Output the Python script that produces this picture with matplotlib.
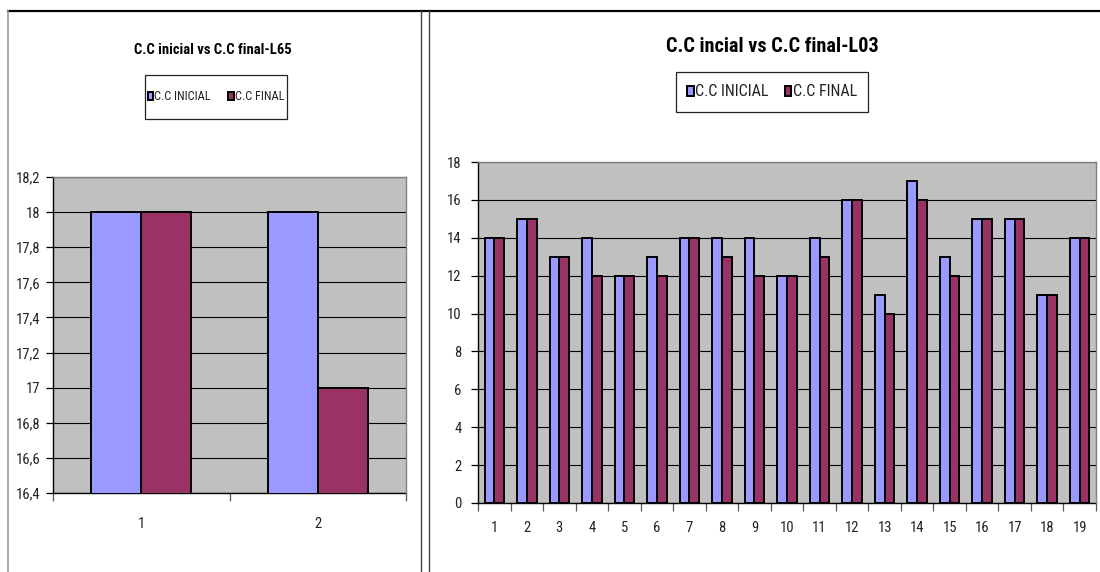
import matplotlib
matplotlib.use("Agg")
import matplotlib.pyplot as plt
from matplotlib import font_manager
from matplotlib.patches import Rectangle
from matplotlib.lines import Line2D
from matplotlib.ticker import FixedLocator, FuncFormatter

# ---------------- data ----------------
left_title = "C.C inicial vs C.C final-L65"
right_title = "C.C incial vs C.C final-L03"
series_names = ["C.C INICIAL", "C.C FINAL"]

left_categories = ["1", "2"]
left_inicial = [18, 18]
left_final = [18, 17]
left_yticks = [16.4, 16.6, 16.8, 17.0, 17.2, 17.4, 17.6, 17.8, 18.0, 18.2]

right_categories = [str(i) for i in range(1, 20)]
right_inicial = [14, 15, 13, 14, 12, 13, 14, 14, 14, 12, 14, 16, 11, 17, 13, 15, 15, 11, 14]
right_final = [14, 15, 13, 12, 12, 12, 14, 13, 12, 12, 13, 16, 10, 16, 12, 15, 15, 11, 14]
right_yticks = [0, 2, 4, 6, 8, 10, 12, 14, 16, 18]

# ---------------- style ----------------
BLUE = "#9999FF"
RED = "#993366"
PLOT_BG = "#C0C0C0"

names = {f.name for f in font_manager.fontManager.ttflist}
if "Roboto Condensed" in names:
    FAM = ["Roboto Condensed", "DejaVu Sans"]
elif "Liberation Sans Narrow" in names:
    FAM = ["Liberation Sans Narrow", "DejaVu Sans"]
else:
    FAM = ["Liberation Sans", "DejaVu Sans"]
plt.rcParams["font.family"] = FAM

W, H = 1100, 572
fig = plt.figure(figsize=(W / 100, H / 100), dpi=100)
fig.patch.set_facecolor("white")


def fx(px):
    return px / W


def fy(py):
    return 1 - py / H


def comma_fmt(v, pos):
    s = ("%.1f" % v).rstrip("0").rstrip(".")
    return s.replace(".", ",")


def make_panel(rect_px, cats, ini, fin, yticks, bar_w, tick_fs, title, title_xy,
               title_fs, leg_xy, leg_box, leg_fs, leg_hl, leg_hh, leg_cs, xlab_pad, ylab_pad):
    x0, y0, x1, y1 = rect_px
    ax = fig.add_axes([fx(x0), fy(y1), fx(x1 - x0), (y1 - y0) / H])
    ax.set_facecolor(PLOT_BG)
    ax.set_axisbelow(True)
    pos = list(range(len(cats)))
    b1 = ax.bar([p - bar_w / 2 for p in pos], ini, width=bar_w, color=BLUE,
                edgecolor="black", linewidth=1.4, label=series_names[0], zorder=3)
    b2 = ax.bar([p + bar_w / 2 for p in pos], fin, width=bar_w, color=RED,
                edgecolor="black", linewidth=1.4, label=series_names[1], zorder=3)
    ax.set_xlim(-0.5, len(cats) - 0.5)
    ax.set_ylim(yticks[0], yticks[-1])
    ax.yaxis.set_major_locator(FixedLocator(yticks))
    ax.yaxis.set_major_formatter(FuncFormatter(comma_fmt))
    ax.set_xticks(pos)
    ax.set_xticklabels(cats)
    ax.xaxis.set_minor_locator(FixedLocator([p - 0.5 for p in pos] + [len(cats) - 0.5]))
    ax.tick_params(axis="x", which="major", length=0, pad=xlab_pad, labelsize=tick_fs,
                   colors="#222222")
    ax.tick_params(axis="x", which="minor", length=6, width=0.9, color="#555555",
                   direction="out")
    ax.tick_params(axis="y", which="major", length=5, width=0.9, direction="out",
                   pad=ylab_pad, labelsize=tick_fs, colors="#222222")
    ax.tick_params(axis="y", which="major", color="black")
    ax.yaxis.grid(True, color="black", linewidth=0.8)
    for s in ("top", "right"):
        ax.spines[s].set_color("#808080")
        ax.spines[s].set_linewidth(1.0)
    for s in ("left", "bottom"):
        ax.spines[s].set_color("black")
        ax.spines[s].set_linewidth(1.0)
    ax.spines["top"].set_zorder(4)
    ax.spines["right"].set_zorder(4)

    fig.text(fx(title_xy[0]), fy(title_xy[1]), title, ha="center", va="center",
             fontsize=title_fs, fontweight="bold", color="black")

    leg = ax.legend(handles=[b1, b2], loc="center", ncol=2, frameon=False,
                    bbox_to_anchor=(fx(leg_xy[0]), fy(leg_xy[1])),
                    bbox_transform=fig.transFigure, fontsize=leg_fs,
                    handlelength=leg_hl, handleheight=leg_hh, handletextpad=0.1,
                    columnspacing=leg_cs, borderpad=0, borderaxespad=0)
    for t in leg.get_texts():
        t.set_color("#222222")
    bx0, by0, bx1, by1 = leg_box
    fig.add_artist(Rectangle((fx(bx0), fy(by1)), fx(bx1 - bx0), (by1 - by0) / H,
                             transform=fig.transFigure, fill=False,
                             edgecolor="#222222", linewidth=0.9))
    return ax


# left panel
make_panel((53, 177, 406, 493), left_categories, left_inicial, left_final, left_yticks,
           0.283, 10.5, left_title, (213, 50), 10.5, (216, 97), (145, 75, 287, 119),
           8.8, 0.45, 0.6, 1.4, 17, 4)

# right panel
make_panel((478, 162, 1096, 503), right_categories, right_inicial, right_final, right_yticks,
           0.3, 10.5, right_title, (772, 47), 14.6, (772, 92), (676, 72, 868, 112),
           11.5, 0.4, 0.55, 1.0, 13, 7)

# panel borders
def line(xs, ys, color, lw):
    fig.add_artist(Line2D([fx(x) for x in xs], [fy(y) for y in ys],
                          transform=fig.transFigure, color=color, linewidth=lw))

line([8, 1100], [11, 11], "black", 1.6)
line([8, 8], [11, 572], "#9a9a9a", 1.2)
line([421, 421], [11, 572], "#444444", 1.0)
line([429, 429], [11, 572], "#444444", 1.0)

fig.savefig("out.png", dpi=100, facecolor="white")
